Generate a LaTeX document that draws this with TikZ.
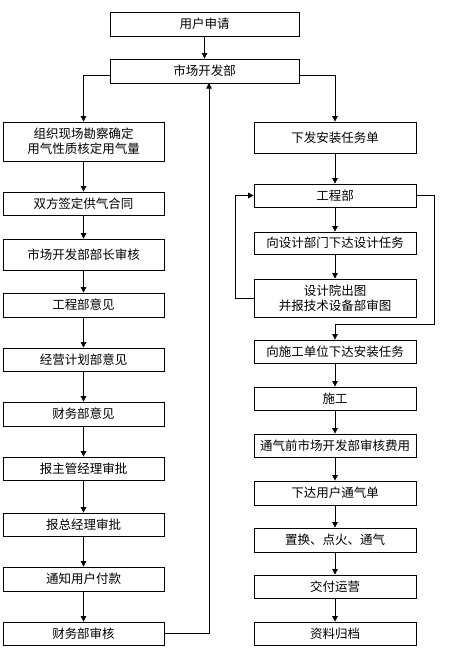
\documentclass[tikz,border=0pt]{standalone}
\usepackage{fontspec}
\newfontfamily\cjk{Noto Sans CJK SC}
\usetikzlibrary{arrows.meta, positioning}

\begin{document}
\begin{tikzpicture}[
                x=1pt, y=-1pt,
                box/.style={draw, line width=0.8pt, rectangle, inner sep=1pt, align=center},
                boxM/.style={box, minimum width=189pt},
                boxL/.style={box, minimum width=161pt},
                boxR/.style={box, minimum width=162pt},
                arr/.style={line width=0.8pt, -{Triangle[width=5.5pt,length=5.5pt]}},
                every node/.style={font=\cjk\fontsize{12.5}{15}\selectfont}
            ]
                \useasboundingbox (0,0) rectangle (463,659);

                % top
                \node[boxM, minimum height=24pt] (apply) at (204.5,24) {用户申请};
                \node[boxM, minimum height=24pt] (market) at (204.5,71) {市场开发部};

                % left column
                \node[boxL, minimum height=39pt] (survey) at (83.5,141.5) {组织现场勘察确定\\用气性质核定用气量};
                \node[boxL, minimum height=23pt] (contract) at (83.5,203.5) {双方签定供气合同};
                \node[boxL, minimum height=31pt] (chief) at (83.5,254.5) {市场开发部部长审核};
                \node[boxL, minimum height=24pt] (engop) at (83.5,305) {工程部意见};
                \node[boxL, minimum height=23pt] (planop) at (83.5,359.5) {经营计划部意见};
                \node[boxL, minimum height=24pt] (finop) at (83.5,414) {财务部意见};
                \node[boxL, minimum height=23pt] (mgr) at (83.5,468.5) {报主管经理审批};
                \node[boxL, minimum height=23pt] (gm) at (83.5,524.5) {报总经理审批};
                \node[boxL, minimum height=24pt] (pay) at (83.5,579) {通知用户付款};
                \node[boxL, minimum height=23pt] (fin) at (83.5,633.5) {财务部审核};

                % right column
                \node[boxR, minimum height=31pt] (task) at (335,137.5) {下发安装任务单};
                \node[boxR, minimum height=23pt] (eng) at (335,195.5) {工程部};
                \node[boxR, minimum height=22pt] (dtask) at (335,243) {向设计部门下达设计任务};
                \node[boxR, minimum height=38pt] (design) at (335,298) {设计院出图\\并报技术设备部审图};
                \node[boxR, minimum height=23pt] (build) at (335,351.5) {向施工单位下达安装任务};
                \node[boxR, minimum height=23pt] (work) at (335,398.5) {施工};
                \node[boxR, minimum height=23pt] (fee) at (335,445.5) {通气前市场开发部审核费用};
                \node[boxR, minimum height=24pt] (gasord) at (335,493) {下达用户通气单};
                \node[boxR, minimum height=24pt] (purge) at (335,540) {置换、点火、通气};
                \node[boxR, minimum height=23pt] (deliver) at (335,586.5) {交付运营};
                \node[boxR, minimum height=23pt] (archive) at (335,633.5) {资料归档};

                \coordinate (up) at (209,83);

                \draw[arr] (apply) -- (market);
                \draw[arr] ([yshift=-4pt]market.west) -| (survey.north);
                \draw[arr] ([yshift=-4pt]market.east) -| (task.north);

                \draw[arr] (survey) -- (contract);
                \draw[arr] (contract) -- (chief);
                \draw[arr] (chief) -- (engop);
                \draw[arr] (engop) -- (planop);
                \draw[arr] (planop) -- (finop);
                \draw[arr] (finop) -- (mgr);
                \draw[arr] (mgr) -- (gm);
                \draw[arr] (gm) -- (pay);
                \draw[arr] (pay) -- (fin);
                \draw[arr] (fin.east) -| (up);

                \draw[arr] (task) -- (eng);
                \draw[arr] (eng) -- (dtask);
                \draw[arr] (dtask) -- (design);
                \draw[arr] (design.west) -- ++(-18,0) |- (eng.west);
                \draw[arr] (eng.east) -- ++(18,0) -- ++(0,128.5) -| (build.north);
                \draw[arr] (build) -- (work);
                \draw[arr] (work) -- (fee);
                \draw[arr] (fee) -- (gasord);
                \draw[arr] (gasord) -- (purge);
                \draw[arr] (purge) -- (deliver);
                \draw[arr] (deliver) -- (archive);
            \end{tikzpicture}
\end{document}
